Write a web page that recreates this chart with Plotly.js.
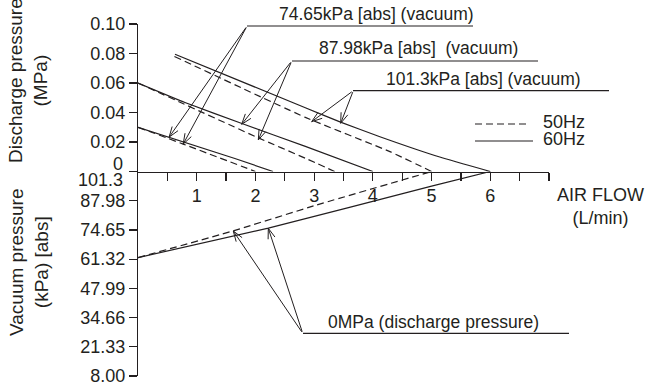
<!DOCTYPE html>
<html>
<head>
<meta charset="utf-8">
<script src="https://cdn.plot.ly/plotly-3.0.1.min.js"></script>
<style>html,body{margin:0;padding:0;background:#fff;}#chart{width:648px;height:384px;}</style>
</head>
<body>
<div id="chart"></div>
<script>
// ---------- data ----------
// Discharge pressure curves (MPa) vs air flow (L/min)
const flow_7465_60 = [0, 1.65, 2.3];
const disc_7465_60 = [0.030, 0.0088, 0];
const flow_7465_50 = [0, 0.77, 2.0];
const disc_7465_50 = [0.030, 0.0186, 0];

const flow_8798_60 = [0, 0.8, 1.77, 2.85, 4.0];
const disc_8798_60 = [0.060, 0.0468, 0.0325, 0.0170, 0];
const flow_8798_50 = [0, 2.05, 2.85, 3.35];
const disc_8798_50 = [0.060, 0.0228, 0.009, 0];

const flow_1013_60 = [0.63, 2.85, 3.45, 4.12, 5.14, 6.0];
const disc_1013_60 = [0.0795, 0.0432, 0.0335, 0.0236, 0.0098, 0];
const flow_1013_50 = [0.62, 2.85, 4.29, 5.0];
const disc_1013_50 = [0.078, 0.0367, 0.0135, 0];

// Vacuum pressure curves (kPa abs) vs air flow at 0 MPa discharge
const flow_vac_60 = [0, 2.22, 5.0, 6.0];
const vac_60 = [62.0, 75.5, 94.6, 101.3];
const flow_vac_50 = [0, 1.62, 3.04, 5.0];
const vac_50 = [62.0, 74.2, 86.0, 101.3];

// tick labels
const xTickVals = [0.5, 1, 1.5, 2, 2.5, 3, 3.5, 4, 4.5, 5, 5.5, 6, 6.5, 7];
const xTickText = ['', '1', '', '2', '', '3', '', '4', '', '5', '', '6', '', ''];
const dischargeTickVals = [0, 0.02, 0.04, 0.06, 0.08, 0.10];
const dischargeTickText = ['', '0.02', '0.04', '0.06', '0.08', '0.10'];
const vacuumTickVals = [8.00, 21.33, 34.66, 47.99, 61.32, 74.65, 87.98];
const vacuumTickText = ['8.00', '21.33', '34.66', '47.99', '61.32', '74.65', '87.98'];

// ---------- styling / layout ----------
const W = 648, H = 384;
const M = {l: 138, r: 99, t: 24, b: 8};
const PW = W - M.l - M.r, PH = H - M.t - M.b;
const X_RANGE = [0, 7], Y1_RANGE = [0, 0.10], Y2_RANGE = [8, 101.3];
const px2x = px => (px - M.l) / PW;          // pixel -> paper x
const py2y = py => (H - M.b - py) / PH;       // pixel -> paper y
const INK = '#231f20';
const FONT = 'Liberation Sans, Arial, Helvetica, sans-serif';
const DASH = '7px,4px';
const LW = 1.2;
const split = py2y(171.5);

// data -> paper helpers (for arrowhead decorations)
const dx2p = x => (x - X_RANGE[0]) / (X_RANGE[1] - X_RANGE[0]);
const dy2p = (y, ax) => ax === 'y'
  ? split + (1 - split) * (y - Y1_RANGE[0]) / (Y1_RANGE[1] - Y1_RANGE[0])
  : split * (y - Y2_RANGE[0]) / (Y2_RANGE[1] - Y2_RANGE[0]);

function line(x, y, dashed, yax) {
  return {x: x, y: y, xaxis: 'x', yaxis: yax, mode: 'lines', hoverinfo: 'skip',
    line: {color: INK, width: LW, dash: dashed ? DASH : 'solid', shape: 'spline', smoothing: 0.4}};
}

const traces = [
  line(flow_7465_60, disc_7465_60, false, 'y'),
  line(flow_7465_50, disc_7465_50, true, 'y'),
  line(flow_8798_60, disc_8798_60, false, 'y'),
  line(flow_8798_50, disc_8798_50, true, 'y'),
  line(flow_1013_60, disc_1013_60, false, 'y'),
  line(flow_1013_50, disc_1013_50, true, 'y'),
  line(flow_vac_60, vac_60, false, 'y2'),
  line(flow_vac_50, vac_50, true, 'y2')
];

// arrows: tip (x,y) and tail (ax,ay) in data units
const arrows = [
  {y: 'y', x: 0.53, yv: 0.0233, ax: 1.857, ay: 0.0986},
  {y: 'y', x: 0.77, yv: 0.0186, ax: 1.857, ay: 0.0986},
  {y: 'y', x: 1.766, yv: 0.0320, ax: 2.618, ay: 0.0749},
  {y: 'y', x: 2.049, yv: 0.0214, ax: 2.618, ay: 0.0749},
  {y: 'y', x: 2.958, yv: 0.0338, ax: 3.667, ay: 0.0548},
  {y: 'y', x: 3.452, yv: 0.0327, ax: 3.667, ay: 0.0548},
  {y: 'y2', x: 1.623, yv: 74.15, ax: 2.805, ay: 27.5},
  {y: 'y2', x: 2.219, yv: 75.4, ax: 2.805, ay: 27.5}
];

const annotations = arrows.map(a => ({
  xref: 'x', yref: a.y, axref: 'x', ayref: a.y,
  x: a.x, y: a.yv, ax: a.ax, ay: a.ay, text: '',
  showarrow: true, arrowhead: 0, arrowwidth: 1, arrowcolor: INK,
  standoff: 0, startstandoff: 0
}));

function txt(text, pxX, pxY, size, xanchor, extra) {
  return Object.assign({xref: 'paper', yref: 'paper', x: px2x(pxX), y: py2y(pxY),
    xanchor: xanchor, yanchor: 'middle', showarrow: false, text: text,
    font: {family: FONT, size: size, color: INK}}, extra || {});
}

annotations.push(
  txt('74.65kPa [abs] (vacuum)', 277, 13.5, 17.5, 'left'),
  txt('87.98kPa [abs]\u00a0 (vacuum)', 317, 48, 17.5, 'left'),
  txt('101.3kPa [abs] (vacuum)', 384, 79, 17.5, 'left'),
  txt('0MPa (discharge pressure)', 326, 321.5, 17.5, 'left'),
  txt('50Hz', 541, 122, 18, 'left'),
  txt('60Hz', 541, 139, 18, 'left'),
  txt('AIR FLOW<br>(L/min)', 600, 206, 18, 'center'),
  txt('0', 125, 164, 18, 'right'),
  txt('101.3', 125, 180, 18, 'right'),
  txt('Discharge pressure<br>(MPa)', 28, 81, 19, 'center', {textangle: -90}),
  txt('Vacuum pressure<br>(kPa) [abs]', 29, 262, 19, 'center', {textangle: -90})
);

function hline(x0, x1, y, dash) {
  return {type: 'line', xref: 'paper', yref: 'paper', x0: px2x(x0), x1: px2x(x1),
    y0: py2y(y), y1: py2y(y), line: {color: INK, width: LW, dash: dash || 'solid'}};
}
const shapes = [
  hline(247, 473, 26),
  hline(292, 538, 61),
  hline(353, 609, 90.7),
  hline(303, 569, 333.3),
  hline(475, 527, 124, DASH),
  hline(475, 533, 141)
];

// open "V" arrowheads, drawn in pixel space then converted to paper units
const HEAD_LEN = 11, HEAD_ANG = 19 * Math.PI / 180;
arrows.forEach(a => {
  const tx = dx2p(a.x) * PW, ty = dy2p(a.yv, a.y) * PH;     // tip (px, y up)
  const sx = dx2p(a.ax) * PW, sy = dy2p(a.ay, a.y) * PH;    // tail
  const ang = Math.atan2(sy - ty, sx - tx);
  const w1 = [tx + HEAD_LEN * Math.cos(ang + HEAD_ANG), ty + HEAD_LEN * Math.sin(ang + HEAD_ANG)];
  const w2 = [tx + HEAD_LEN * Math.cos(ang - HEAD_ANG), ty + HEAD_LEN * Math.sin(ang - HEAD_ANG)];
  const p = (pt) => (pt[0] / PW) + ',' + (pt[1] / PH);
  shapes.push({type: 'path', xref: 'paper', yref: 'paper',
    path: 'M' + p(w1) + 'L' + p([tx, ty]) + 'L' + p(w2),
    line: {color: INK, width: 1}});
});

const axisCommon = {
  showgrid: false, zeroline: false, showline: true, linecolor: INK, linewidth: LW,
  ticks: 'outside', ticklen: 8, tickwidth: LW, tickcolor: INK,
  tickfont: {family: FONT, size: 18, color: INK}, fixedrange: true,
  ticklabeloverflow: 'allow'
};

const layout = {
  width: W, height: H, margin: M, showlegend: false,
  paper_bgcolor: '#fff', plot_bgcolor: '#fff',
  font: {family: FONT, color: INK},
  xaxis: Object.assign({}, axisCommon, {range: X_RANGE, anchor: 'y',
    tickmode: 'array', tickvals: xTickVals, ticktext: xTickText}),
  yaxis: Object.assign({}, axisCommon, {domain: [split, 1], range: Y1_RANGE, anchor: 'x',
    tickmode: 'array', tickvals: dischargeTickVals, ticktext: dischargeTickText}),
  yaxis2: Object.assign({}, axisCommon, {domain: [0, split], range: Y2_RANGE, anchor: 'x',
    tickmode: 'array', tickvals: vacuumTickVals, ticktext: vacuumTickText}),
  annotations: annotations,
  shapes: shapes
};

Plotly.newPlot('chart', traces, layout, {staticPlot: true, displayModeBar: false});
</script>
</body>
</html>
